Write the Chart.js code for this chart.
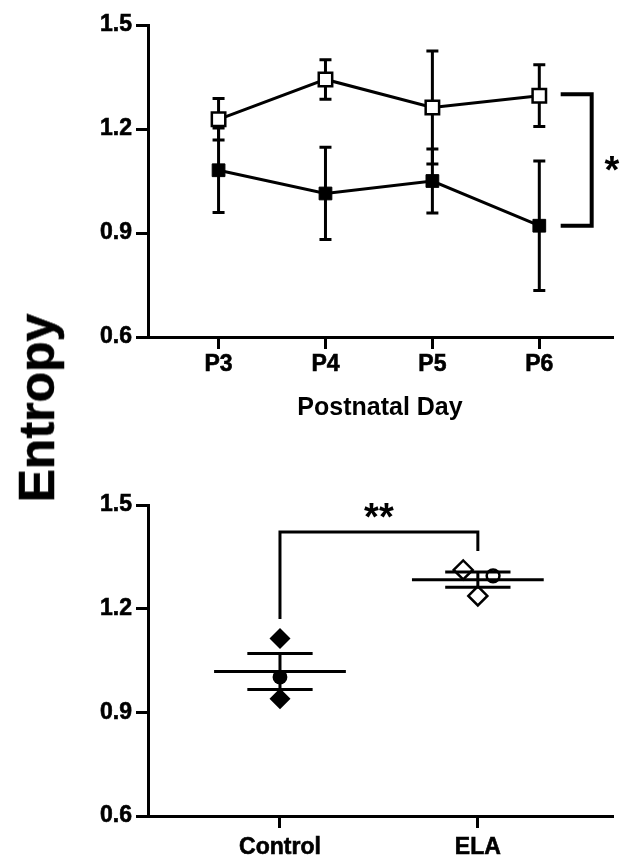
<!DOCTYPE html>
<html>
<head>
<meta charset="utf-8">
<script src="https://cdn.jsdelivr.net/npm/chart.js@4"></script>
<style>
  body { margin: 0; background: #fff; }
  #top { position: absolute; left: 0; top: 0; width: 624px; height: 440px; }
  #bottom { position: absolute; left: 0; top: 440px; width: 624px; height: 416px; }
  #ylab {
    position: absolute; left: 37px; top: 408px;
    transform: translate(-50%, -50%) rotate(-90deg);
    font: bold 50px 'Liberation Sans', Arial, sans-serif;
    -webkit-text-stroke: 0.6px #000;
    line-height: 1; white-space: nowrap; color: #000;
  }
</style>
</head>
<body>
<div id="top"><canvas id="dayChart"></canvas></div>
<div id="bottom"><canvas id="groupChart"></canvas></div>
<div id="ylab">Entropy</div>
<script>
// top panel: entropy per postnatal day (mean +/- SEM)
const days = ['P3', 'P4', 'P5', 'P6'];
const elaMean = [1.228, 1.343, 1.262, 1.296];
const elaSem = [0.060, 0.057, 0.163, 0.089];
const ctrlMean = [1.081, 1.014, 1.050, 0.921];
const ctrlSem = [0.122, 0.133, 0.092, 0.187];

// bottom panel: per-animal values, group mean +/- SEM
const groups = ['Control', 'ELA'];
const ctrlPoints = [1.114, 1.002, 0.939];
const elaPoints = [1.312, 1.295, 1.237];
const elaPointX = [0.926, 1.077, 1.0];
const pointShapes = ['rectRot', 'circle', 'rectRot'];
const groupMean = [1.018, 1.284];
const groupSem = [0.052, 0.022];

const yTicks = [0.6, 0.9, 1.2, 1.5];

const FONT = "'Liberation Sans', Arial, sans-serif";
const tickFont = { family: FONT, size: 23, weight: 'bold' };
const tickStyle = { color: '#000', font: tickFont, textStrokeColor: '#000', textStrokeWidth: 0.6 };

function yAxis() {
  return {
    type: 'linear', min: 0.6, max: 1.5,
    afterFit: s => { s.width = 148; },
    afterBuildTicks: s => { s.ticks = yTicks.map(v => ({ value: v })); },
    border: { display: true, color: '#000', width: 3 },
    grid: { drawOnChartArea: false, color: '#000', lineWidth: 3, tickLength: 12 },
    ticks: { ...tickStyle, padding: 4, callback: v => v.toFixed(1) }
  };
}

function drawStars(ctx, text, px, py) {
  ctx.font = 'bold 38px ' + FONT;
  ctx.textAlign = 'center';
  ctx.textBaseline = 'alphabetic';
  const m = ctx.measureText(text);
  ctx.fillText(text, px, py + (m.actualBoundingBoxAscent - m.actualBoundingBoxDescent) / 2);
}

const dayErrors = {
  id: 'dayErrors',
  beforeDatasetsDraw(chart) {
    const { ctx, scales: { x, y } } = chart;
    ctx.save();
    ctx.strokeStyle = '#000';
    ctx.lineWidth = 3;
    [[elaMean, elaSem], [ctrlMean, ctrlSem]].forEach(([mean, sem]) => {
      mean.forEach((v, i) => {
        const px = x.getPixelForValue(i);
        const hi = y.getPixelForValue(v + sem[i]);
        const lo = y.getPixelForValue(v - sem[i]);
        ctx.beginPath();
        ctx.moveTo(px, hi); ctx.lineTo(px, lo);
        ctx.moveTo(px - 6, hi); ctx.lineTo(px + 6, hi);
        ctx.moveTo(px - 6, lo); ctx.lineTo(px + 6, lo);
        ctx.stroke();
      });
    });
    ctx.restore();
  },
  afterDraw(chart) {
    const { ctx, scales: { x, y } } = chart;
    ctx.save();
    ctx.strokeStyle = '#000';
    ctx.lineWidth = 4;
    const x0 = x.getPixelForValue(3.2), x1 = x.getPixelForValue(3.49);
    const y0 = y.getPixelForValue(1.30), y1 = y.getPixelForValue(0.921);
    ctx.beginPath();
    ctx.moveTo(x0, y0); ctx.lineTo(x1, y0); ctx.lineTo(x1, y1); ctx.lineTo(x0, y1);
    ctx.stroke();
    ctx.fillStyle = '#000';
    drawStars(ctx, '*', x.getPixelForValue(3.68), y.getPixelForValue(1.10));
    ctx.restore();
  }
};

new Chart(document.getElementById('dayChart'), {
  type: 'scatter',
  data: {
    datasets: [{
      label: 'ELA',
      data: elaMean.map((v, i) => ({ x: i, y: v })),
      showLine: true, borderColor: '#000', borderWidth: 3, tension: 0,
      pointStyle: 'rect', pointRadius: 9.5,
      pointBackgroundColor: '#fff', pointBorderColor: '#000', pointBorderWidth: 2.5
    }, {
      label: 'Control',
      data: ctrlMean.map((v, i) => ({ x: i, y: v })),
      showLine: true, borderColor: '#000', borderWidth: 3, tension: 0,
      pointStyle: 'rect', pointRadius: 9,
      pointBackgroundColor: '#000', pointBorderColor: '#000', pointBorderWidth: 1
    }]
  },
  options: {
    responsive: true, maintainAspectRatio: false, animation: false, events: [],
    layout: { padding: { left: 0, right: 6, top: 25, bottom: 0 } },
    plugins: { legend: { display: false }, tooltip: { enabled: false } },
    scales: {
      x: {
        type: 'linear', min: -0.66, max: 3.68,
        afterFit: s => { s.height = 103; },
        afterBuildTicks: s => { s.ticks = days.map((d, i) => ({ value: i })); },
        border: { display: true, color: '#000', width: 3 },
        grid: { drawOnChartArea: false, color: '#000', lineWidth: 3, tickLength: 12 },
        ticks: { ...tickStyle, padding: 2, callback: v => days[v] },
        title: {
          display: true, text: 'Postnatal Day', color: '#000',
          font: { family: FONT, size: 25, weight: 'bold' },
          padding: { top: 0, bottom: 17 }
        }
      },
      y: yAxis()
    }
  },
  plugins: [dayErrors]
});

const groupStats = {
  id: 'groupStats',
  afterDatasetsDraw(chart) {
    const { ctx, scales: { x, y } } = chart;
    ctx.save();
    ctx.strokeStyle = '#000';
    ctx.lineWidth = 3;
    groupMean.forEach((m, i) => {
      const px = x.getPixelForValue(i);
      const wMean = x.getPixelForValue(i + 0.333) - px;
      const wSem = x.getPixelForValue(i + 0.165) - px;
      const pm = y.getPixelForValue(m);
      const hi = y.getPixelForValue(m + groupSem[i]);
      const lo = y.getPixelForValue(m - groupSem[i]);
      ctx.beginPath();
      ctx.moveTo(px - wMean, pm); ctx.lineTo(px + wMean, pm);
      ctx.moveTo(px - wSem, hi); ctx.lineTo(px + wSem, hi);
      ctx.moveTo(px - wSem, lo); ctx.lineTo(px + wSem, lo);
      ctx.moveTo(px, hi); ctx.lineTo(px, lo);
      ctx.stroke();
    });
    ctx.restore();
  },
  afterDraw(chart) {
    const { ctx, scales: { x, y } } = chart;
    ctx.save();
    ctx.strokeStyle = '#000';
    ctx.lineWidth = 3;
    const x0 = x.getPixelForValue(0), x1 = x.getPixelForValue(1);
    const top = y.getPixelForValue(1.422);
    ctx.beginPath();
    ctx.moveTo(x0, y.getPixelForValue(1.170));
    ctx.lineTo(x0, top); ctx.lineTo(x1, top);
    ctx.lineTo(x1, y.getPixelForValue(1.367));
    ctx.stroke();
    ctx.fillStyle = '#000';
    drawStars(ctx, '**', x.getPixelForValue(0.5), y.getPixelForValue(1.484));
    ctx.restore();
  }
};

const radiusFor = c => pointShapes[c.dataIndex] === 'circle' ? 7.4 : 10.5;

new Chart(document.getElementById('groupChart'), {
  type: 'scatter',
  data: {
    datasets: [{
      label: 'Control',
      data: ctrlPoints.map(v => ({ x: 0, y: v })),
      pointStyle: pointShapes, pointRadius: radiusFor,
      pointBackgroundColor: '#000', pointBorderColor: '#000', pointBorderWidth: 0
    }, {
      label: 'ELA',
      data: elaPoints.map((v, i) => ({ x: elaPointX[i], y: v })),
      pointStyle: pointShapes, pointRadius: c => radiusFor(c) - 1,
      pointBackgroundColor: '#fff', pointBorderColor: '#000', pointBorderWidth: 2.5
    }]
  },
  options: {
    responsive: true, maintainAspectRatio: false, animation: false, events: [],
    layout: { padding: { left: 0, right: 6, top: 65, bottom: 0 } },
    plugins: { legend: { display: false }, tooltip: { enabled: false } },
    scales: {
      x: {
        type: 'linear', min: -0.667, max: 1.678,
        afterFit: s => { s.height = 40; },
        afterBuildTicks: s => { s.ticks = groups.map((g, i) => ({ value: i })); },
        border: { display: true, color: '#000', width: 3 },
        grid: { drawOnChartArea: false, color: '#000', lineWidth: 3, tickLength: 12 },
        ticks: { ...tickStyle, padding: 6, callback: v => groups[v] }
      },
      y: yAxis()
    }
  },
  plugins: [groupStats]
});
</script>
</body>
</html>
